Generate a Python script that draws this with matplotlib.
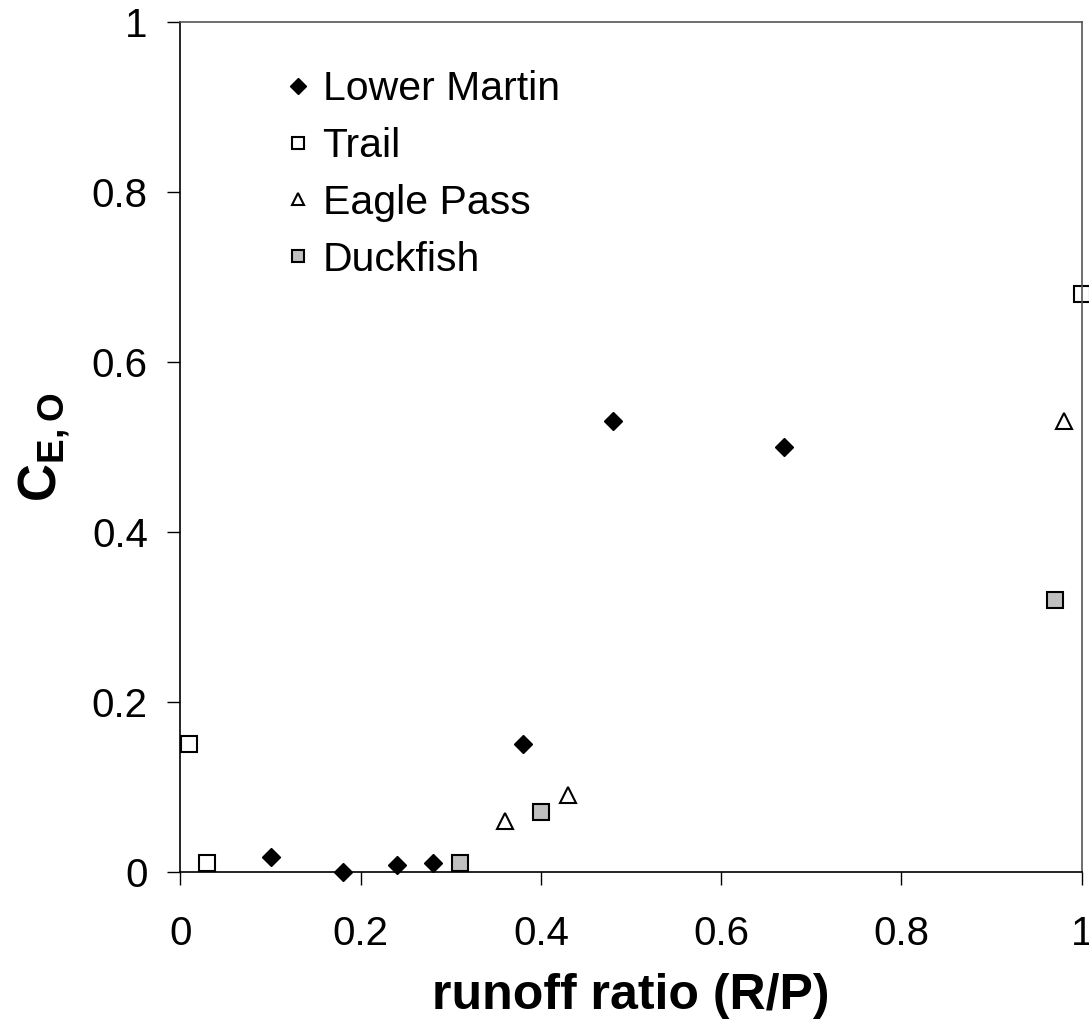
import matplotlib
matplotlib.use("Agg")
import matplotlib.pyplot as plt

plt.rcParams["font.family"] = ["Liberation Sans", "DejaVu Sans"]
plt.rcParams["mathtext.fontset"] = "custom"
plt.rcParams["mathtext.rm"] = "Liberation Sans"
plt.rcParams["mathtext.bf"] = "Liberation Sans:bold"

# runoff ratio (R/P) and C_E,O per site
lower_martin_x = [0.10, 0.18, 0.24, 0.28, 0.38, 0.48, 0.67]
lower_martin_y = [0.017, 0.0, 0.008, 0.010, 0.15, 0.53, 0.50]

trail_x = [0.01, 0.03, 1.0]
trail_y = [0.15, 0.01, 0.68]

eagle_pass_x = [0.36, 0.43, 0.98]
eagle_pass_y = [0.06, 0.09, 0.53]

duckfish_x = [0.31, 0.40, 0.97]
duckfish_y = [0.01, 0.07, 0.32]

xticks = [0, 0.2, 0.4, 0.6, 0.8, 1]
xtick_labels = ["0", "0.2", "0.4", "0.6", "0.8", "1"]
yticks = [0, 0.2, 0.4, 0.6, 0.8, 1]
ytick_labels = ["0", "0.2", "0.4", "0.6", "0.8", "1"]

fig = plt.figure(figsize=(10.89, 10.24), dpi=100)
ax = fig.add_axes([0.1657, 0.1487, 0.8276, 0.8298])

ax.plot(lower_martin_x, lower_martin_y, linestyle="none", marker="D",
        markersize=9, markerfacecolor="black", markeredgecolor="black",
        label="Lower Martin", clip_on=False)
ax.plot(trail_x, trail_y, linestyle="none", marker="s", markersize=11,
        markerfacecolor="white", markeredgecolor="black", markeredgewidth=1.5,
        label="Trail", clip_on=False)
ax.plot(eagle_pass_x, eagle_pass_y, linestyle="none", marker="^",
        markersize=11, markerfacecolor="white", markeredgecolor="black",
        markeredgewidth=1.5, label="Eagle Pass", clip_on=False)
ax.plot(duckfish_x, duckfish_y, linestyle="none", marker="s", markersize=11,
        markerfacecolor="#c0c0c0", markeredgecolor="black",
        markeredgewidth=1.5, label="Duckfish", clip_on=False)

ax.set_xlim(0, 1)
ax.set_ylim(0, 1)
ax.set_xticks(xticks)
ax.set_xticklabels(xtick_labels)
ax.set_yticks(yticks)
ax.set_yticklabels(ytick_labels)
ax.tick_params(axis="both", direction="out", length=9.5, width=1,
               labelsize=29)
ax.tick_params(axis="x", pad=22)
ax.tick_params(axis="y", pad=14)

for side in ["left", "bottom"]:
    ax.spines[side].set_color("black")
    ax.spines[side].set_linewidth(1.2)
for side in ["top", "right"]:
    ax.spines[side].set_color("#555555")
    ax.spines[side].set_linewidth(1.2)

ax.set_xlabel("runoff ratio (R/P)", fontsize=36, fontweight="bold",
              labelpad=14)
ax.set_ylabel(r"$\mathbf{C_{E,O}}$", fontsize=38, labelpad=14)

leg = ax.legend(loc="upper left", bbox_to_anchor=(0.094, 0.9675),
                frameon=False, fontsize=29.5, markerscale=0.85,
                handlelength=0.6, handletextpad=0.3, labelspacing=0.46,
                borderpad=0)

fig.savefig("out.png", dpi=100)
